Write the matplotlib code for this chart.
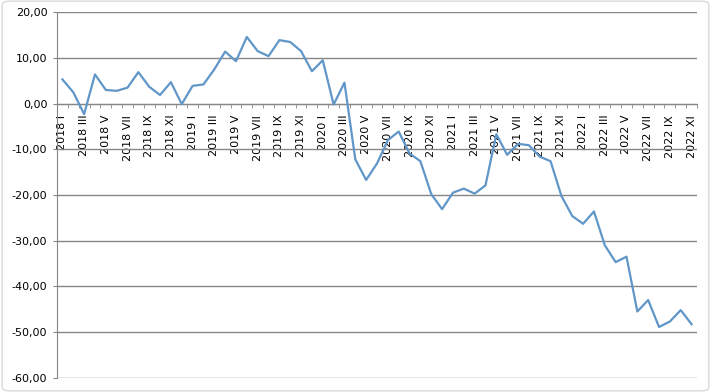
import matplotlib
matplotlib.use("Agg")
import matplotlib.pyplot as plt
from matplotlib.ticker import FuncFormatter, FixedLocator
from matplotlib.patches import FancyBboxPatch

# Monthly series, 2018 I .. 2022 XI
roman = ["I", "II", "III", "IV", "V", "VI", "VII", "VIII", "IX", "X", "XI", "XII"]
months = [f"{y} {m}" for y in range(2018, 2023) for m in roman][:59]

values = [5.3, 2.5, -2.3, 6.4, 3.0, 2.8, 3.5, 6.9, 3.7, 1.9,
          4.7, -0.1, 3.9, 4.2, 7.5, 11.4, 9.3, 14.6, 11.5, 10.4,
          13.9, 13.5, 11.5, 7.1, 9.5, -0.2, 4.6, -12.2, -16.7, -13.1,
          -8.0, -6.1, -10.9, -12.6, -19.8, -23.1, -19.5, -18.6, -19.7, -17.9,
          -6.7, -11.2, -8.8, -9.1, -11.6, -12.6, -20.2, -24.6, -26.3, -23.6,
          -31.0, -34.7, -33.5, -45.5, -43.0, -48.9, -47.7, -45.2, -48.3]

grey = "#868686"
blue = "#6096c8"

fig = plt.figure(figsize=(7.11, 3.92), dpi=100)
ax = fig.add_axes([57 / 711, (392 - 377.7) / 392, 640 / 711, 365.4 / 392])

x = list(range(len(values)))
ax.plot(x, values, color=blue, lw=1.6, zorder=3)

ax.set_xlim(-0.5, len(values) - 0.5)
ax.set_ylim(-60, 20)
ax.set_yticks(range(-60, 21, 10))
ax.yaxis.set_major_formatter(FuncFormatter(lambda v, p: f"{v:.2f}".replace(".", ",")))
ax.yaxis.grid(True, color=grey, lw=1)
ax.set_axisbelow(True)

ax.spines["top"].set_visible(False)
ax.spines["right"].set_visible(False)
ax.spines["left"].set_color(grey)
ax.spines["bottom"].set_color(grey)
ax.spines["bottom"].set_position(("data", 0))

ax.set_xticks(x[::2])
ax.set_xticklabels(months[::2], rotation=90, fontsize=8)
ax.xaxis.set_minor_locator(FixedLocator([i - 0.5 for i in range(len(values) + 1)]))
ax.tick_params(axis="x", which="major", length=0, pad=8)
ax.tick_params(axis="x", which="minor", length=3, color=grey, direction="out")
ax.tick_params(axis="y", length=3, color=grey, labelsize=8, pad=4)

# faint chart border
fig.patches.append(FancyBboxPatch((0.003, 0.003), 0.994, 0.994,
                                  boxstyle="round,pad=0,rounding_size=0.01",
                                  transform=fig.transFigure, fill=False,
                                  edgecolor="#d9d9d9", lw=1))

fig.savefig("out.png", dpi=100)
